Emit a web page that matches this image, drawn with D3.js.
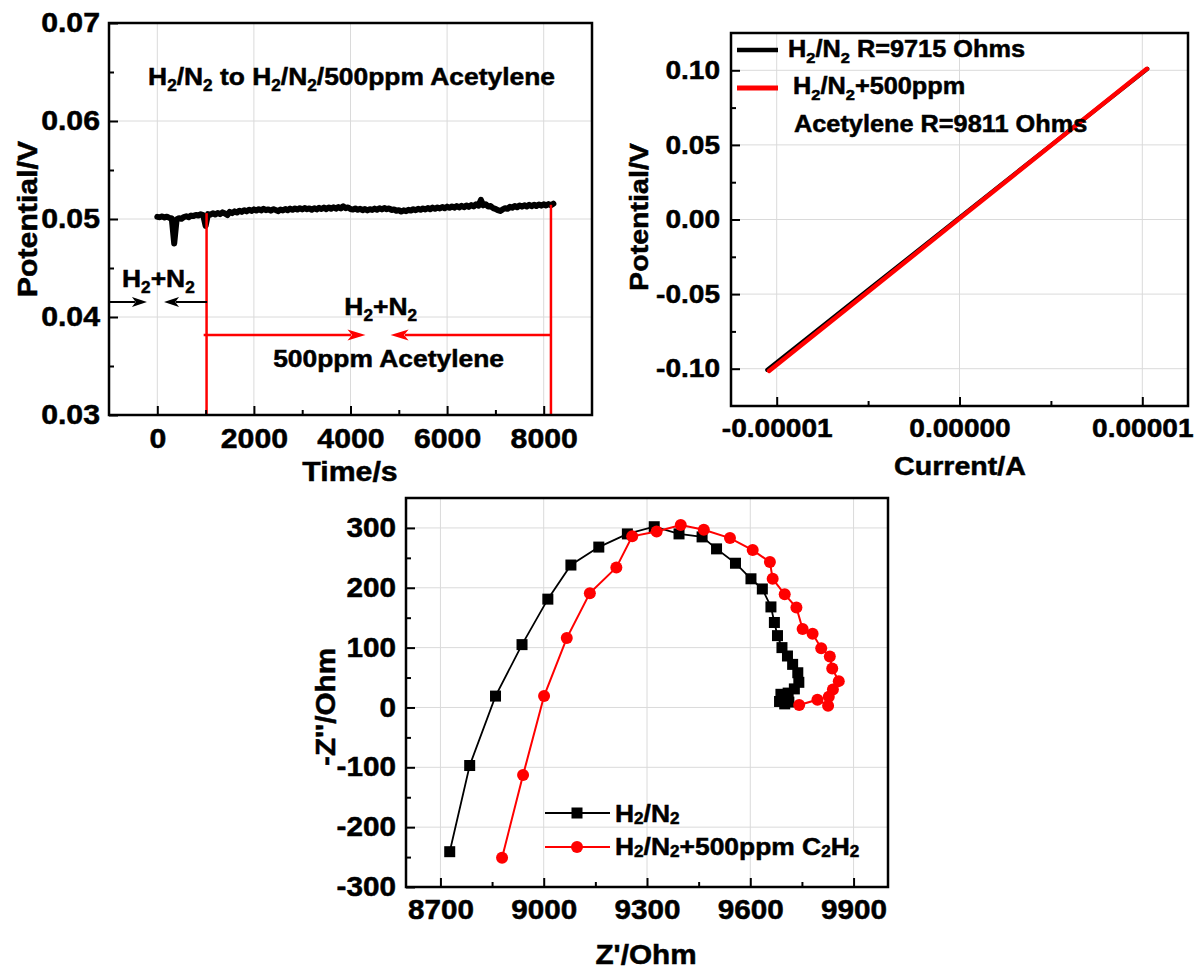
<!DOCTYPE html>
<html><head><meta charset="utf-8">
<script src="https://cdn.jsdelivr.net/npm/d3@7"></script>
<style>body{margin:0;background:#fff}text{white-space:pre}</style>
</head><body>
<script>
// ---------------- DATA ----------------
// Panel A: potential vs time (sampled every 50 s)
const potentialTimeStep = 50;
const potentialValues = [
 0.05022,0.05018,0.05026,0.05015,0.05024,0.05012,0.05005,0.04750,0.04995,0.05008,
 0.05002,0.05020,0.05028,0.05018,0.05035,0.05030,0.05042,0.05036,0.05048,0.05040,
 0.04930,0.05050,0.05044,0.05058,0.05046,0.05062,0.05050,0.05068,0.05056,0.05040,
 0.05072,0.05060,0.05078,0.05066,0.05085,0.05072,0.05090,0.05078,0.05095,0.05082,
 0.05098,0.05086,0.05100,0.05088,0.05104,0.05090,0.05098,0.05085,0.05100,0.05092,
 0.05080,0.05096,0.05088,0.05102,0.05090,0.05106,0.05094,0.05108,0.05096,0.05110,
 0.05098,0.05112,0.05100,0.05108,0.05094,0.05110,0.05098,0.05114,0.05102,0.05116,
 0.05100,0.05118,0.05104,0.05120,0.05106,0.05122,0.05108,0.05130,0.05110,0.05118,
 0.05102,0.05096,0.05108,0.05094,0.05104,0.05090,0.05102,0.05088,0.05100,0.05092,
 0.05106,0.05094,0.05110,0.05098,0.05112,0.05100,0.05108,0.05092,0.05098,0.05084,
 0.05090,0.05076,0.05088,0.05080,0.05094,0.05086,0.05100,0.05090,0.05104,0.05094,
 0.05108,0.05098,0.05112,0.05100,0.05116,0.05104,0.05118,0.05108,0.05122,0.05110,
 0.05126,0.05114,0.05128,0.05116,0.05132,0.05118,0.05134,0.05120,0.05138,0.05124,
 0.05142,0.05128,0.05150,0.05136,0.05195,0.05140,0.05150,0.05128,0.05132,0.05112,
 0.05104,0.05090,0.05082,0.05098,0.05110,0.05104,0.05124,0.05116,0.05132,0.05120,
 0.05138,0.05126,0.05140,0.05128,0.05144,0.05130,0.05146,0.05132,0.05148,0.05136,
 0.05150,0.05138,0.05152,0.05140,0.05156
];
const timeTicks = [0,2000,4000,6000,8000];
const timeMinor = [1000,3000,5000,7000];
const potentialTicks = [0.03,0.04,0.05,0.06,0.07];
const potentialMinor = [0.035,0.045,0.055,0.065];
// annotations (data units)
const annoVLines = [{t:1020,v0:0.0506,v1:0.03},{t:8150,v0:0.05145,v1:0.03}];
const annoRedArrows = [{from:960,to:4310,v:0.03816},{from:8150,to:4830,v:0.03816}];
const annoBlackArrows = [{from:-1000,to:-214,v:0.04153},{from:1031,to:139,v:0.04153}];
const annoTexts = [
 {text:"H_2/N_2 to H_2/N_2/500ppm Acetylene",t:-191,v:0.06367},
 {text:"H_2+N_2",t:-730,v:0.04306},
 {text:"H_2+N_2",t:3873,v:0.04020},
 {text:"500ppm Acetylene",t:2399,v:0.0349}
];

// Panel B: I-V
const ivCurrentH2N2 = [-1.052e-5,-0.5e-5,0,0.5e-5,1.028e-5];
const ivPotentialH2N2 = [-0.1008,-0.0472,0.0013,0.0498,0.1010];
const ivCurrentC2H2 = [-1.042e-5,-0.5e-5,0,0.5e-5,1.025e-5];
const ivPotentialC2H2 = [-0.1015,-0.0484,0.0006,0.0496,0.1010];
const currentTicks = [-1e-5,0,1e-5];
const currentMinor = [-0.5e-5,0.5e-5];
const ivPotTicks = [-0.10,-0.05,0,0.05,0.10];
const ivPotMinor = [-0.075,-0.025,0.025,0.075];
const ivLegend = ["H_2/N_2 R=9715 Ohms","H_2/N_2+500ppm","Acetylene R=9811 Ohms"];

// Panel C: Nyquist
const zReH2N2 = [8727,8785,8860,8937,9012,9079,9160,9243,9321,9393,9460,9502,9557,9602,9635,9660,9670,9679,9692,9708,9723,9738,9741,9728,9710,9689,9685,9700,9712];
const zImH2N2 = [-241,-97,19,105,181,238,268,290,302,290,285,265,241,215,198,168,142,120,100,86,72,58,42,31,24,22,10,6,9];
const zReC2H2 = [8879,8940,9001,9067,9134,9211,9257,9328,9398,9465,9541,9607,9657,9665,9700,9734,9752,9781,9806,9831,9838,9857,9840,9828,9826,9795,9742];
const zImC2H2 = [-251,-113,19,116,191,234,286,294,305,297,283,263,243,215,189,167,131,123,99,85,65,44,30,18,3,13,4];
const zReTicks = [8700,9000,9300,9600,9900];
const zReMinor = [8850,9150,9450,9750];
const zImTicks = [-300,-200,-100,0,100,200,300];
const zImMinor = [-250,-150,-50,50,150,250];
const nyqLegend = ["H_2/N_2","H_2/N_2+500ppm C_2H_2"];

// ---------------- DRAWING ----------------
const FONT = '"Liberation Sans", Arial, Helvetica, sans-serif';
const RED = '#ff0000';
const svg = d3.select('body').append('svg').attr('width',1195).attr('height',972)
  .style('background','#fff').attr('font-family',FONT).attr('font-weight','bold');

function rich(t, str, fs, subDy){
  t.attr('font-size',fs);
  const parts = str.split(/(_\d)/).filter(s=>s.length);
  let shifted=false;
  parts.forEach(p=>{
    if(p[0]==='_'){ t.append('tspan').text(p.slice(1)).attr('font-size',fs*0.65).attr('dy',subDy); shifted=true; }
    else { const ts=t.append('tspan').text(p); if(shifted){ ts.attr('dy',-subDy); shifted=false; } }
  });
  return t;
}
function grid(x,y,xt,yt){
  const [xa,xb]=x.range(), [ya,yb]=y.range();
  const g=svg.append('g').attr('stroke','#dadada').attr('stroke-width',1);
  g.selectAll('line.gx').data(xt).join('line').attr('class','gx').attr('x1',d=>x(d)).attr('x2',d=>x(d)).attr('y1',ya).attr('y2',yb);
  g.selectAll('line.gy').data(yt).join('line').attr('class','gy').attr('x1',xa).attr('x2',xb).attr('y1',d=>y(d)).attr('y2',d=>y(d));
}
function axes(x,y,c){
  const [xa,xb]=x.range(), [ya,yb]=y.range();
  const gs=[];
  gs.push(svg.append('g').attr('transform',`translate(0,${ya})`).call(d3.axisBottom(x).tickValues(c.xTicks).tickFormat(c.xFmt).tickSize(-9).tickSizeOuter(0).tickPadding(c.xPad)));
  const gxm=svg.append('g').attr('transform',`translate(0,${ya})`).call(d3.axisBottom(x).tickValues(c.xMinor).tickSize(-5).tickSizeOuter(0));
  gxm.selectAll('text').remove(); gs.push(gxm);
  gs.push(svg.append('g').attr('transform',`translate(${xa},0)`).call(d3.axisLeft(y).tickValues(c.yTicks).tickFormat(c.yFmt).tickSize(-9).tickSizeOuter(0).tickPadding(c.yPad)));
  const gym=svg.append('g').attr('transform',`translate(${xa},0)`).call(d3.axisLeft(y).tickValues(c.yMinor).tickSize(-5).tickSizeOuter(0));
  gym.selectAll('text').remove(); gs.push(gym);
  gs.forEach(g=>{
    g.select('.domain').remove();
    g.selectAll('line').attr('stroke','#000').attr('stroke-width',2);
    g.attr('font-size',c.fs).attr('font-family',FONT).attr('font-weight','bold');
    g.selectAll('text').attr('fill','#000');
  });
  svg.append('rect').attr('x',xa).attr('y',yb).attr('width',xb-xa).attr('height',ya-yb)
    .attr('fill','none').attr('stroke','#000').attr('stroke-width',2.5);
}
function title(str,x,y,fs,rot){
  const t=svg.append('text').attr('text-anchor','middle').attr('fill','#000')
    .attr('transform',`translate(${x},${y})${rot?' rotate(-90)':''}`);
  rich(t,str,fs,6);
}
function hArrow(g,x1,x2,y,color,sw,hl,hw){
  const dir = x2>x1?1:-1;
  g.append('line').attr('x1',x1).attr('x2',x2-dir*hl*0.8).attr('y1',y).attr('y2',y).attr('stroke',color).attr('stroke-width',sw);
  g.append('path').attr('d',`M${x2},${y}L${x2-dir*hl},${y-hw/2}L${x2-dir*hl*0.75},${y}L${x2-dir*hl},${y+hw/2}Z`).attr('fill',color);
}

// ---- Panel A ----
const xA = d3.scaleLinear().domain([-1000,9000]).range([109,592]);
const yA = d3.scaleLinear().domain([0.03,0.07]).range([415,23]);
grid(xA,yA,timeTicks,potentialTicks);
svg.append('path').datum(potentialValues)
  .attr('d',d3.line().x((d,i)=>xA(i*potentialTimeStep)).y(d=>yA(d)))
  .attr('fill','none').attr('stroke','#000').attr('stroke-width',6).attr('stroke-linejoin','round').attr('stroke-linecap','round');
const gA = svg.append('g');
annoVLines.forEach(a=>gA.append('line').attr('x1',xA(a.t)).attr('x2',xA(a.t)).attr('y1',yA(a.v0)).attr('y2',yA(a.v1)).attr('stroke',RED).attr('stroke-width',2.5));
annoRedArrows.forEach(a=>hArrow(gA,xA(a.from),xA(a.to),yA(a.v),RED,2.5,18,11));
annoBlackArrows.forEach(a=>hArrow(gA,xA(a.from),xA(a.to),yA(a.v),'#000',2,15,10));
annoTexts.forEach(a=>{ const t=svg.append('text').attr('x',xA(a.t)).attr('y',yA(a.v)).attr('fill','#000'); rich(t,a.text,24,6); });
axes(xA,yA,{xTicks:timeTicks,xMinor:timeMinor,yTicks:potentialTicks,yMinor:potentialMinor,
  xFmt:d=>String(d),yFmt:d=>d.toFixed(2),fs:27.5,xPad:13,yPad:9});
title("Potential/V",37,219,27.5,true);
title("Time/s",350,481,27.5,false);

// ---- Panel B ----
const xB = d3.scaleLinear().domain([-1.25e-5,1.25e-5]).range([731,1188]);
const yB = d3.scaleLinear().domain([-0.125,0.125]).range([406,33]);
grid(xB,yB,currentTicks,ivPotTicks);
const lineB = d3.line().x(d=>xB(d[0])).y(d=>yB(d[1]));
svg.append('path').datum(ivCurrentH2N2.map((c,i)=>[c,ivPotentialH2N2[i]])).attr('d',lineB)
  .attr('fill','none').attr('stroke','#000').attr('stroke-width',4).attr('stroke-linecap','round');
svg.append('path').datum(ivCurrentC2H2.map((c,i)=>[c,ivPotentialC2H2[i]])).attr('d',lineB)
  .attr('fill','none').attr('stroke',RED).attr('stroke-width',4.5).attr('stroke-linecap','round');
axes(xB,yB,{xTicks:currentTicks,xMinor:currentMinor,yTicks:ivPotTicks,yMinor:ivPotMinor,
  xFmt:d=>d.toFixed(5),yFmt:d=>d.toFixed(2),fs:25.5,xPad:13,yPad:11});
// legend B
svg.append('line').attr('x1',737).attr('x2',778).attr('y1',50).attr('y2',50).attr('stroke','#000').attr('stroke-width',4.5);
svg.append('line').attr('x1',737).attr('x2',778).attr('y1',88).attr('y2',88).attr('stroke',RED).attr('stroke-width',5);
rich(svg.append('text').attr('x',788).attr('y',57).attr('fill','#000'),ivLegend[0],23,6);
rich(svg.append('text').attr('x',793).attr('y',94).attr('fill','#000'),ivLegend[1],23,6);
rich(svg.append('text').attr('x',794).attr('y',132).attr('fill','#000'),ivLegend[2],23,6);
title("Potential/V",648,217,26,true);
title("Current/A",960,475,26,false);

// ---- Panel C ----
const xC = d3.scaleLinear().domain([8600,10000]).range([406,888]);
const yC = d3.scaleLinear().domain([-300,350]).range([887,498]);
grid(xC,yC,zReTicks,zImTicks);
const lineC = d3.line().x(d=>xC(d[0])).y(d=>yC(d[1]));
const dH = zReH2N2.map((r,i)=>[r,zImH2N2[i]]);
const dC = zReC2H2.map((r,i)=>[r,zImC2H2[i]]);
svg.append('path').datum(dH).attr('d',lineC).attr('fill','none').attr('stroke','#000').attr('stroke-width',1.8);
svg.selectAll('rect.sq').data(dH).join('rect').attr('class','sq')
  .attr('x',d=>xC(d[0])-5.5).attr('y',d=>yC(d[1])-5.5).attr('width',11).attr('height',11).attr('fill','#000');
svg.append('path').datum(dC).attr('d',lineC).attr('fill','none').attr('stroke',RED).attr('stroke-width',2);
svg.selectAll('circle.ci').data(dC).join('circle').attr('class','ci')
  .attr('cx',d=>xC(d[0])).attr('cy',d=>yC(d[1])).attr('r',6).attr('fill',RED);
axes(xC,yC,{xTicks:zReTicks,xMinor:zReMinor,yTicks:zImTicks,yMinor:zImMinor,
  xFmt:d=>String(d),yFmt:d=>String(d),fs:27,xPad:13,yPad:10});
// legend C
svg.append('line').attr('x1',545).attr('x2',610).attr('y1',813).attr('y2',813).attr('stroke','#000').attr('stroke-width',1.8);
svg.append('rect').attr('x',571.5).attr('y',807.5).attr('width',11).attr('height',11).attr('fill','#000');
svg.append('line').attr('x1',545).attr('x2',610).attr('y1',847).attr('y2',847).attr('stroke',RED).attr('stroke-width',2);
svg.append('circle').attr('cx',577).attr('cy',847).attr('r',6).attr('fill',RED);
rich(svg.append('text').attr('x',615).attr('y',822).attr('fill','#000'),nyqLegend[0],24,2);
rich(svg.append('text').attr('x',615).attr('y',855).attr('fill','#000'),nyqLegend[1],24,2);
title("-Z''/Ohm",335,707,27,true);
title("Z'/Ohm",646,964,27,false);

// horizontal stretch + slight weight of all text to match the heavy lettering of the original
svg.selectAll('text').attr('stroke','#000').attr('stroke-width',0.5).each(function(){
  const L=this.getComputedTextLength();
  if(L>0){ this.setAttribute('textLength',L*1.1); this.setAttribute('lengthAdjust','spacingAndGlyphs'); }
});
</script>
</body></html>
